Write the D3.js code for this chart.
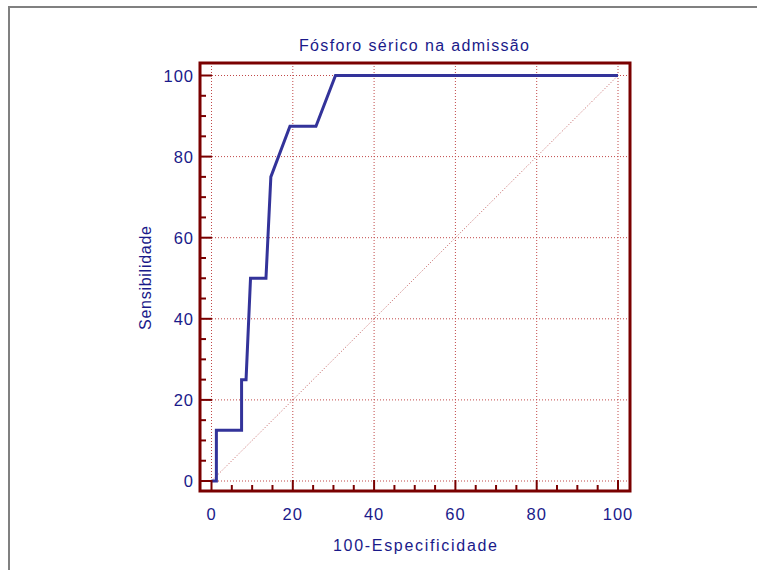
<!DOCTYPE html>
<html>
<head>
<meta charset="utf-8">
<script src="https://cdn.jsdelivr.net/npm/d3@7"></script>
<style>
  html, body { margin: 0; padding: 0; background: #fff; }
  svg { display: block; }
  text { font-family: "Liberation Sans", Arial, sans-serif; fill: #1a1a8a; }
</style>
</head>
<body>
<svg id="chart" width="757" height="570"></svg>
<script>
// ROC curve points: 100-Especificidade (x) vs Sensibilidade (y)
const fpr = [0, 1.2, 1.2, 7.4, 7.4, 8.5, 9.6, 13.4, 14.6, 19.3, 25.7, 30.5, 100];
const tpr = [0, 0, 12.5, 12.5, 25, 25, 50, 50, 75, 87.5, 87.5, 100, 100];
const majorTicks = [0, 20, 40, 60, 80, 100];
const minorTicks = d3.range(0, 101, 5).filter(v => v % 20 !== 0);
const titleText = "Fósforo sérico na admissão";
const xTitle = "100-Especificidade";
const yTitle = "Sensibilidade";

const svg = d3.select("#chart");
const frameColor = "#7a0000";
const gridColor = "#c04848";

// outer page frame (top and left edges)
svg.append("path")
  .attr("d", "M9,570 V7 H757")
  .attr("fill", "none").attr("stroke", "#808080").attr("stroke-width", 2);

const x = d3.scaleLinear().domain([0, 100]).range([211.5, 618]);
const y = d3.scaleLinear().domain([0, 100]).range([481, 75.5]);
const box = { x0: 200, x1: 630, y0: 63, y1: 491 };

// grid lines
const grid = svg.append("g");
grid.selectAll(".gx").data(majorTicks).join("line")
  .attr("x1", d => x(d)).attr("x2", d => x(d))
  .attr("y1", box.y0).attr("y2", box.y1)
  .attr("stroke", gridColor).attr("stroke-width", 1).attr("stroke-dasharray", "1,2");
grid.selectAll(".gy").data(majorTicks).join("line")
  .attr("y1", d => y(d)).attr("y2", d => y(d))
  .attr("x1", box.x0).attr("x2", box.x1)
  .attr("stroke", gridColor).attr("stroke-width", 1).attr("stroke-dasharray", "1,2");

// reference diagonal
svg.append("line")
  .attr("x1", x(0)).attr("y1", y(0)).attr("x2", x(100)).attr("y2", y(100))
  .attr("stroke", "#b03030").attr("stroke-width", 0.8).attr("stroke-dasharray", "1,2");

// ROC curve
const pts = fpr.map((v, i) => [v, tpr[i]]);
svg.append("path")
  .datum(pts)
  .attr("d", d3.line().x(d => x(d[0])).y(d => y(d[1])))
  .attr("fill", "none").attr("stroke", "#33339a").attr("stroke-width", 3)
  .attr("stroke-linejoin", "miter");

// axis frame
svg.append("rect")
  .attr("x", box.x0).attr("y", box.y0)
  .attr("width", box.x1 - box.x0).attr("height", box.y1 - box.y0)
  .attr("fill", "none").attr("stroke", frameColor).attr("stroke-width", 3);

// ticks pointing inward from bottom and left edges
const ticks = svg.append("g").attr("stroke", frameColor).attr("stroke-width", 2);
ticks.selectAll(".txM").data(majorTicks).join("line")
  .attr("x1", d => x(d)).attr("x2", d => x(d)).attr("y1", box.y1).attr("y2", box.y1 - 11);
ticks.selectAll(".txm").data(minorTicks).join("line")
  .attr("x1", d => x(d)).attr("x2", d => x(d)).attr("y1", box.y1).attr("y2", box.y1 - 6);
ticks.selectAll(".tyM").data(majorTicks).join("line")
  .attr("y1", d => y(d)).attr("y2", d => y(d)).attr("x1", box.x0).attr("x2", box.x0 + 12);
ticks.selectAll(".tym").data(minorTicks).join("line")
  .attr("y1", d => y(d)).attr("y2", d => y(d)).attr("x1", box.x0).attr("x2", box.x0 + 6);

// tick labels
svg.selectAll(".xl").data(majorTicks).join("text")
  .attr("x", d => x(d)).attr("y", 520)
  .attr("text-anchor", "middle").attr("font-size", 16.5)
  .attr("letter-spacing", 1)
  .text(d => d);
svg.selectAll(".yl").data(majorTicks).join("text")
  .attr("x", 194).attr("y", d => y(d) + 6)
  .attr("text-anchor", "end").attr("font-size", 16.5)
  .attr("letter-spacing", 1)
  .text(d => d);

// titles
svg.append("text").attr("x", 414).attr("y", 51)
  .attr("text-anchor", "middle").attr("font-size", 16)
  .attr("textLength", 230).attr("lengthAdjust", "spacing")
  .text(titleText);
svg.append("text").attr("x", 415).attr("y", 551)
  .attr("text-anchor", "middle").attr("font-size", 16)
  .attr("textLength", 164).attr("lengthAdjust", "spacing")
  .text(xTitle);
svg.append("text")
  .attr("transform", "translate(151,278) rotate(-90)")
  .attr("text-anchor", "middle").attr("font-size", 16)
  .attr("textLength", 104).attr("lengthAdjust", "spacing")
  .text(yTitle);
</script>
</body>
</html>
